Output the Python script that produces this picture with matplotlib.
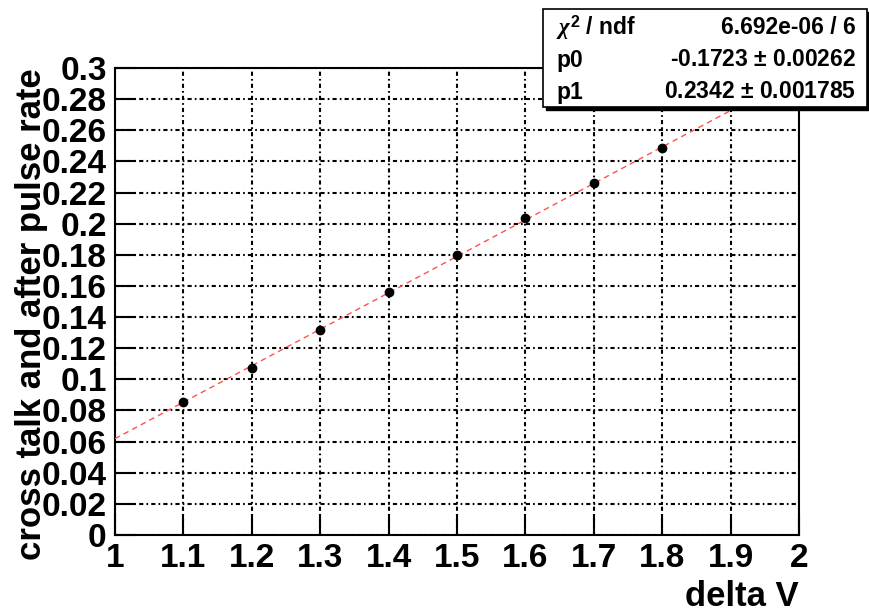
import numpy as np
import matplotlib.pyplot as plt
from matplotlib.patches import Rectangle
from matplotlib.ticker import MultipleLocator, FormatStrFormatter

plt.rcParams['font.family'] = ['Liberation Sans', 'DejaVu Sans']
plt.rcParams['font.weight'] = 'bold'
plt.rcParams['mathtext.fontset'] = 'custom'
plt.rcParams['mathtext.rm'] = 'Liberation Sans:bold'
plt.rcParams['mathtext.it'] = 'Liberation Serif:italic'

# 測定データ
delta_v = [1.1, 1.2, 1.3, 1.4, 1.5, 1.6, 1.7, 1.8]
rate = [0.0855, 0.1071, 0.1316, 0.1559, 0.180, 0.2035, 0.2262, 0.2486]

# 一次関数フィットの結果 (p0 + p1*x)
p0, p0_err = -0.1723, 0.00262
p1, p1_err = 0.2342, 0.001785
chi2_text = "6.692e-06 / 6"

W, H = 870, 614
fig = plt.figure(figsize=(W / 100, H / 100), dpi=100)
ax = fig.add_axes([115 / W, 1 - 535 / H, 684 / W, 467 / H])

# フィット直線
xf = np.linspace(1.0, 2.0, 200)
ax.plot(xf, p0 + p1 * xf, color='#ff5050', lw=1.0, ls=(0, (4, 3)), zorder=3)

# データ点
ax.plot(delta_v, rate, 'o', color='black', ms=6, zorder=4)

ax.set_xlim(1, 2)
ax.set_ylim(0, 0.3)
ax.xaxis.set_major_locator(MultipleLocator(0.1))
ax.yaxis.set_major_locator(MultipleLocator(0.02))
ax.xaxis.set_major_formatter(FormatStrFormatter('%g'))
ax.yaxis.set_major_formatter(FormatStrFormatter('%g'))

ax.grid(True, color='black', lw=1.5, ls=(0, (2.0, 1.5, 0.8, 1.5)))
ax.tick_params(direction='in', length=15, width=1.5, labelsize=24,
               top=False, right=False, pad=6)
for sp in ax.spines.values():
    sp.set_linewidth(1.5)

ax.set_xlabel("delta V", fontsize=25, fontweight='bold', loc='right', labelpad=4)
ax.set_ylabel("cross talk and after pulse rate", fontsize=25, fontweight='bold',
              loc='top')
ax.yaxis.set_label_coords(-0.098, 1.0)

# 統計ボックス
bx0, bx1 = 543 / W, 867 / W
by0, by1 = 1 - 107 / H, 1 - 9 / H
shadow = Rectangle((bx0 + 3 / W, by0 - 3 / H), bx1 - bx0, by1 - by0,
                   transform=fig.transFigure, facecolor='black', edgecolor='black', zorder=5)
box = Rectangle((bx0, by0), bx1 - bx0, by1 - by0, transform=fig.transFigure,
                facecolor='white', edgecolor='black', lw=1.2, zorder=6)
fig.patches.extend([shadow, box])

rows = [(r"$\chi^{2}$ / ndf", chi2_text),
        ("p0", f"{p0} $\\pm$ {p0_err}"),
        ("p1", f"{p1} $\\pm$ {p1_err}")]
row_y = [28, 60, 92]
for (name, val), y in zip(rows, row_y):
    fig.text(556 / W, 1 - y / H, name, fontsize=16.5, fontweight='bold',
             va='center', ha='left', zorder=7)
    fig.text(856 / W, 1 - y / H, val, fontsize=16.5, fontweight='bold',
             va='center', ha='right', zorder=7)

fig.savefig("out.png", dpi=100)
